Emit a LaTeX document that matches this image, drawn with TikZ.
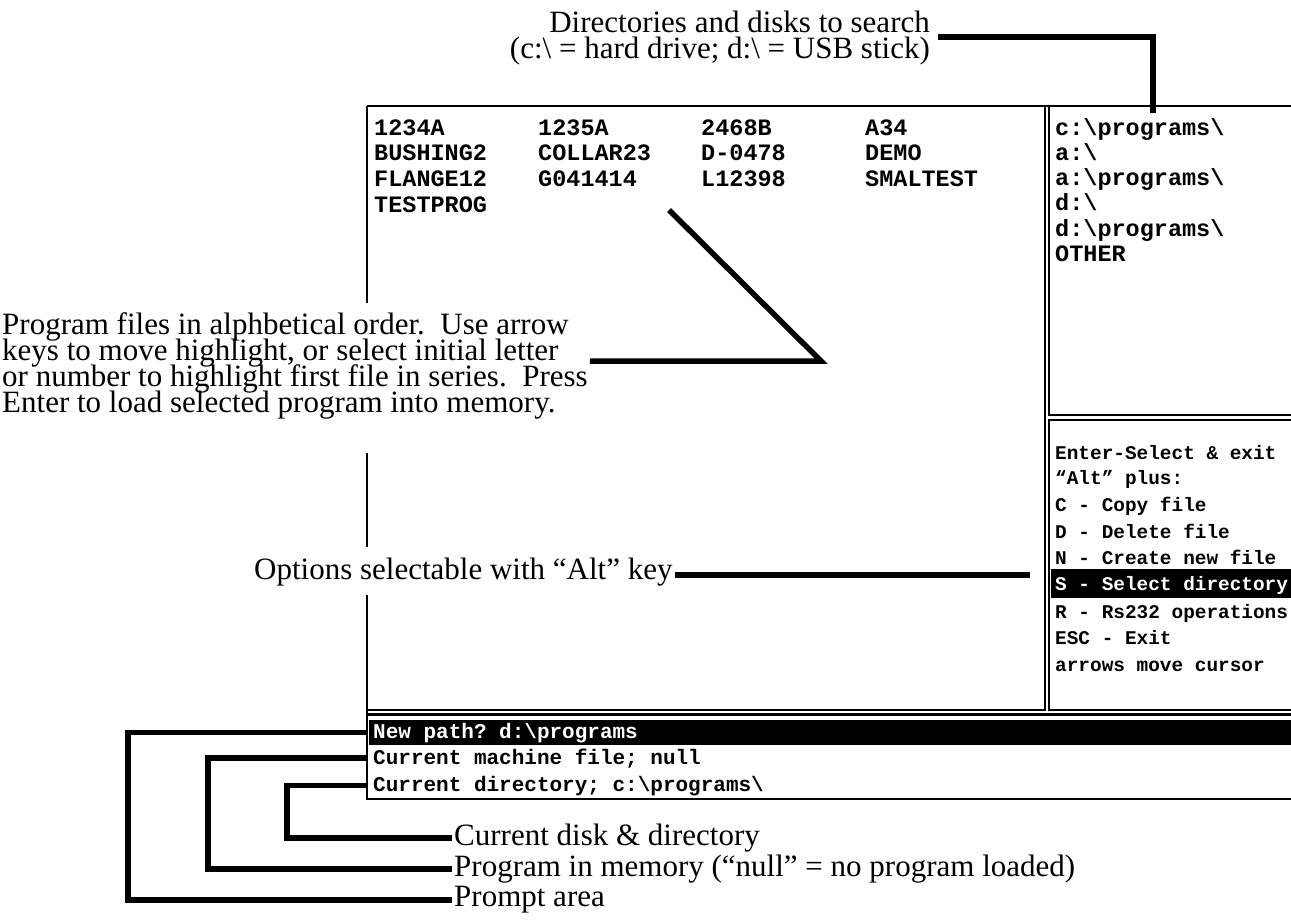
\documentclass[tikz,border=0pt]{standalone}
\usepackage{fontspec}
\setmainfont{Liberation Serif}
\setmonofont{Liberation Mono}
\usetikzlibrary{positioning}
\newcommand\notefont{\fontsize{31}{26}\selectfont\lineskiplimit=-40pt\relax}
\tikzset{
    note/.style = {font=\notefont, align=left, inner sep=2pt},
    scrtxt/.style = {anchor=base west, inner sep=0pt, font=\ttfamily\bfseries\fontsize{23.5}{25}\selectfont},
    opttxt/.style = {anchor=base west, inner sep=0pt, font=\ttfamily\bfseries\fontsize{19.4}{26}\selectfont},
    bartxt/.style = {anchor=base west, inner xsep=6pt, inner ysep=0pt, font=\ttfamily\bfseries\fontsize{21}{26}\selectfont},
    leader/.style = {line width=5.5pt},
    frame/.style = {line width=1.5pt},
    framet/.style = {line width=2.8pt}
}
\begin{document}
\begin{tikzpicture}[x=1pt,y=-1pt]
\useasboundingbox (0,0) rectangle (1291,922);
%
% screen frame (left side broken by the notes)
\draw[frame] (367,106) -- (1291,106);
\draw[frame] (367,106) -- (367,303);
\draw[frame] (367,453) -- (367,547);
\draw[frame] (367,595) -- (367,799) -- (1291,799);
\draw[frame] (367,710) -- (1045,710) -- (1045,106);
\draw[framet] (1049,106) -- (1049,415) -- (1291,415);
\draw[frame] (1291,420) -- (1049,420) -- (1049,710) -- (1291,710);
\draw[framet] (367,714.5) -- (1291,714.5);
\fill (369,720) rectangle (1291,745);
\fill (1051,569) rectangle (1291,598);
%
% program files
\node[scrtxt] at (374,135) (f1) {1234A};
\node[scrtxt] at (538,135) (f2) {1235A};
\node[scrtxt] at (701,135) (f3) {2468B};
\node[scrtxt] at (865,135) (f4) {A34};
\node[scrtxt] at (374,160) (f5) {BUSHING2};
\node[scrtxt] at (538,160) (f6) {COLLAR23};
\node[scrtxt] at (701,160) (f7) {D-0478};
\node[scrtxt] at (865,160) (f8) {DEMO};
\node[scrtxt] at (374,186) (f9) {FLANGE12};
\node[scrtxt] at (538,186) (f10) {G041414};
\node[scrtxt] at (701,186) (f11) {L12398};
\node[scrtxt] at (865,186) (f12) {SMALTEST};
\node[scrtxt] at (374,212) (f13) {TESTPROG};
%
% directories
\node[scrtxt] at (1055,135) (d1) {c:\textbackslash programs\textbackslash};
\node[scrtxt] at (1055,160) (d2) {a:\textbackslash};
\node[scrtxt] at (1055,185) (d3) {a:\textbackslash programs\textbackslash};
\node[scrtxt] at (1055,210) (d4) {d:\textbackslash};
\node[scrtxt] at (1055,236) (d5) {d:\textbackslash programs\textbackslash};
\node[scrtxt] at (1055,261) (d6) {OTHER};
%
% options
\node[opttxt] at (1055,459) (o1) {Enter-Select \& exit};
\node[opttxt] at (1055,484) (o2) {“Alt” plus:};
\node[opttxt] at (1055,511) (o3) {C - Copy file};
\node[opttxt] at (1055,538) (o4) {D - Delete file};
\node[opttxt] at (1055,564) (o5) {N - Create new file};
\node[opttxt,text=white] at (1055,590) (o6) {S - Select directory};
\node[opttxt] at (1055,618) (o7) {R - Rs232 operations};
\node[opttxt] at (1055,644) (o8) {ESC - Exit};
\node[opttxt] at (1055,671) (o9) {arrows move cursor};
%
% prompt area
\node[bartxt,text=white] at (367,738) (newp) {New path? d:\textbackslash programs};
\node[bartxt] at (367,764) (mach) {Current machine file; null};
\node[bartxt] at (367,791) (curd) {Current directory; c:\textbackslash programs\textbackslash};
%
% notes
\node[note, anchor=base east] at (932,32) (dirs) {Directories and disks to search};
\node[note, anchor=base east] at (932,58) (dirsb) {(c:\textbackslash{} = hard drive; d:\textbackslash{} = USB stick)};
\node[note, anchor=west] at (0,366) (prog) {Program files in alphbetical order.\ \ Use arrow\\
keys to move highlight, or select initial letter\\
or number to highlight first file in series.\ \ Press\\
Enter to load selected program into memory.};
\node[note, anchor=west] at (252,572) (opts) {Options selectable with “Alt” key};
\node[note, anchor=west] at (452,838) (cd) {Current disk \& directory};
\node[note, anchor=west] at (452,869) (pm) {Program in memory (“null” = no program loaded)};
\node[note, anchor=west] at (452,900) (pa) {Prompt area};
%
\coordinate (dirtip) at (1153,113);
\coordinate (progend) at (821,361);
\coordinate (progtip) at (669,210);
\coordinate (optend) at (1030,575);
%
\draw[leader] ([xshift=6pt,yshift=-5pt]dirs.base east) -| (dirtip);
\draw[leader] (prog.east |- progend) -- (progend) -- (progtip);
\draw[leader] (opts.east |- optend) -- (optend);
\draw[leader] (newp.west) -- ++(-239,0) |- (pa.west);
\draw[leader] (mach.west) -- ++(-159,0) |- (pm.west);
\draw[leader] (curd.west) -- ++(-80,0) |- (cd.west);
\end{tikzpicture}
\end{document}
